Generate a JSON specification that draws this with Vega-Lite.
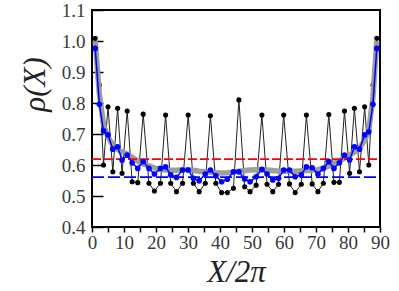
{
  "$schema": "https://vega.github.io/schema/vega-lite/v6.json",
  "width": 288,
  "height": 217,
  "autosize": "none",
  "padding": {"left": 92, "top": 10, "right": 19, "bottom": 64},
  "background": "white",
  "config": {
    "view": {"stroke": "black", "strokeWidth": 2},
    "axis": {
      "grid": false,
      "domain": false,
      "labelFont": "Liberation Serif",
      "labelFontSize": 19,
      "labelColor": "#3a3a3a",
      "titleFont": "Liberation Serif",
      "titleFontStyle": "italic",
      "titleFontWeight": "normal",
      "titleFontSize": 31,
      "titleColor": "#222",
      "tickColor": "black",
      "tickWidth": 1.5
    }
  },
  "datasets": {
    "pts": [
      {"X": 1.0, "black": 1.009, "blue": 0.976, "gray": 1.0},
      {"X": 2.3, "black": 0.858, "blue": 0.796, "gray": 0.83},
      {"X": 3.6, "black": 0.6, "blue": 0.71, "gray": 0.73},
      {"X": 5.0, "black": 0.788, "blue": 0.697, "gray": 0.69},
      {"X": 6.5, "black": 0.578, "blue": 0.651, "gray": 0.665},
      {"X": 8.0, "black": 0.783, "blue": 0.659, "gray": 0.65},
      {"X": 9.4, "black": 0.573, "blue": 0.616, "gray": 0.642},
      {"X": 11.0, "black": 0.774, "blue": 0.632, "gray": 0.636},
      {"X": 12.55, "black": 0.546, "blue": 0.607, "gray": 0.625},
      {"X": 14.3, "black": 0.543, "blue": 0.589, "gray": 0.613},
      {"X": 16.0, "black": 0.764, "blue": 0.611, "gray": 0.603},
      {"X": 17.8, "black": 0.541, "blue": 0.589, "gray": 0.597},
      {"X": 19.5, "black": 0.516, "blue": 0.571, "gray": 0.591},
      {"X": 21.4, "black": 0.541, "blue": 0.589, "gray": 0.586},
      {"X": 23.0, "black": 0.761, "blue": 0.594, "gray": 0.584},
      {"X": 24.6, "black": 0.541, "blue": 0.568, "gray": 0.583},
      {"X": 26.4, "black": 0.514, "blue": 0.56, "gray": 0.583},
      {"X": 28.3, "black": 0.541, "blue": 0.584, "gray": 0.585},
      {"X": 30.05, "black": 0.761, "blue": 0.584, "gray": 0.585},
      {"X": 31.7, "black": 0.541, "blue": 0.557, "gray": 0.583},
      {"X": 33.5, "black": 0.514, "blue": 0.549, "gray": 0.58},
      {"X": 35.4, "black": 0.541, "blue": 0.571, "gray": 0.578},
      {"X": 37.0, "black": 0.759, "blue": 0.584, "gray": 0.577},
      {"X": 38.7, "black": 0.541, "blue": 0.565, "gray": 0.575},
      {"X": 40.5, "black": 0.511, "blue": 0.546, "gray": 0.574},
      {"X": 42.3, "black": 0.511, "blue": 0.554, "gray": 0.575},
      {"X": 44.2, "black": 0.525, "blue": 0.578, "gray": 0.577},
      {"X": 45.9, "black": 0.81, "blue": 0.578, "gray": 0.58},
      {"X": 47.7, "black": 0.53, "blue": 0.555, "gray": 0.582},
      {"X": 49.4, "black": 0.514, "blue": 0.546, "gray": 0.584},
      {"X": 51.3, "black": 0.535, "blue": 0.562, "gray": 0.585},
      {"X": 53.1, "black": 0.761, "blue": 0.586, "gray": 0.585},
      {"X": 54.7, "black": 0.538, "blue": 0.571, "gray": 0.584},
      {"X": 56.5, "black": 0.514, "blue": 0.552, "gray": 0.582},
      {"X": 58.3, "black": 0.538, "blue": 0.557, "gray": 0.58},
      {"X": 59.9, "black": 0.761, "blue": 0.584, "gray": 0.58},
      {"X": 61.7, "black": 0.539, "blue": 0.584, "gray": 0.58},
      {"X": 63.5, "black": 0.511, "blue": 0.562, "gray": 0.58},
      {"X": 65.4, "black": 0.538, "blue": 0.568, "gray": 0.581},
      {"X": 67.0, "black": 0.761, "blue": 0.594, "gray": 0.582},
      {"X": 68.8, "black": 0.539, "blue": 0.591, "gray": 0.583},
      {"X": 70.6, "black": 0.514, "blue": 0.571, "gray": 0.585},
      {"X": 72.3, "black": 0.541, "blue": 0.589, "gray": 0.59},
      {"X": 74.0, "black": 0.763, "blue": 0.611, "gray": 0.597},
      {"X": 75.6, "black": 0.544, "blue": 0.589, "gray": 0.605},
      {"X": 77.3, "black": 0.544, "blue": 0.607, "gray": 0.613},
      {"X": 78.9, "black": 0.774, "blue": 0.632, "gray": 0.622},
      {"X": 80.5, "black": 0.573, "blue": 0.616, "gray": 0.632},
      {"X": 82.0, "black": 0.783, "blue": 0.659, "gray": 0.642},
      {"X": 83.6, "black": 0.578, "blue": 0.651, "gray": 0.655},
      {"X": 85.2, "black": 0.788, "blue": 0.697, "gray": 0.68},
      {"X": 86.5, "black": 0.6, "blue": 0.707, "gray": 0.71},
      {"X": 87.8, "black": 0.858, "blue": 0.796, "gray": 0.82},
      {"X": 89.0, "black": 1.009, "blue": 0.976, "gray": 1.0}
    ],
    "refs": [
      {"name": "red", "X": 0, "rho": 0.619},
      {"name": "red", "X": 90, "rho": 0.619},
      {"name": "blue", "X": 0, "rho": 0.561},
      {"name": "blue", "X": 90, "rho": 0.561}
    ]
  },
  "encoding": {
    "x": {
      "field": "X", "type": "quantitative",
      "scale": {"domain": [0, 90], "nice": false, "zero": false},
      "axis": {
        "title": "X/2π",
        "values": [0, 5, 10, 15, 20, 25, 30, 35, 40, 45, 50, 55, 60, 65, 70, 75, 80, 85, 90],
        "labelExpr": "datum.value % 10 === 0 ? datum.label : ''",
        "tickSize": 5,
        "labelPadding": 1,
        "labelFlush": false,
        "labelOverlap": false,
        "titleX": 144,
        "titleY": 54,
        "titleAnchor": "middle",
        "titleAlign": "center",
        "titleBaseline": "alphabetic"
      }
    },
    "y": {
      "field": "rho", "type": "quantitative",
      "scale": {"domain": [0.4, 1.1], "nice": false, "zero": false},
      "axis": {
        "title": "ρ(X)",
        "values": [0.4, 0.5, 0.6, 0.7, 0.8, 0.9, 1.0, 1.1],
        "format": ".1f",
        "tickSize": -11,
        "labelPadding": 18,
        "labelOverlap": false,
        "labelFlush": false,
        "titleAngle": -90,
        "titleX": -57,
        "titleY": 74,
        "titleAlign": "center",
        "titleBaseline": "middle"
      }
    }
  },
  "layer": [
    {
      "data": {"name": "pts"},
      "transform": [{"fold": ["black"], "as": ["series", "rho"]}],
      "mark": {"type": "line", "color": "#222", "strokeWidth": 1}
    },
    {
      "data": {"name": "pts"},
      "transform": [{"fold": ["black"], "as": ["series", "rho"]}],
      "mark": {"type": "point", "filled": true, "color": "black", "size": 26, "opacity": 1}
    },
    {
      "data": {"name": "pts"},
      "transform": [{"fold": ["gray"], "as": ["series", "rho"]}],
      "mark": {"type": "line", "color": "#999999", "strokeWidth": 5.5, "opacity": 0.95}
    },
    {
      "data": {"name": "refs"},
      "mark": {"type": "line", "strokeWidth": 1.6},
      "encoding": {
        "color": {"field": "name", "type": "nominal", "scale": {"domain": ["red", "blue"], "range": ["#ff0000", "#0000ff"]}, "legend": null},
        "strokeDash": {"field": "name", "type": "nominal", "scale": {"domain": ["red", "blue"], "range": [[9, 3], [12, 4]]}, "legend": null}
      }
    },
    {
      "data": {"name": "pts"},
      "transform": [{"fold": ["blue"], "as": ["series", "rho"]}],
      "mark": {"type": "line", "color": "#0000ff", "strokeWidth": 1.5}
    },
    {
      "data": {"name": "pts"},
      "transform": [{"fold": ["blue"], "as": ["series", "rho"]}],
      "mark": {"type": "point", "filled": true, "color": "#0000ff", "size": 32, "opacity": 1}
    }
  ]
}
